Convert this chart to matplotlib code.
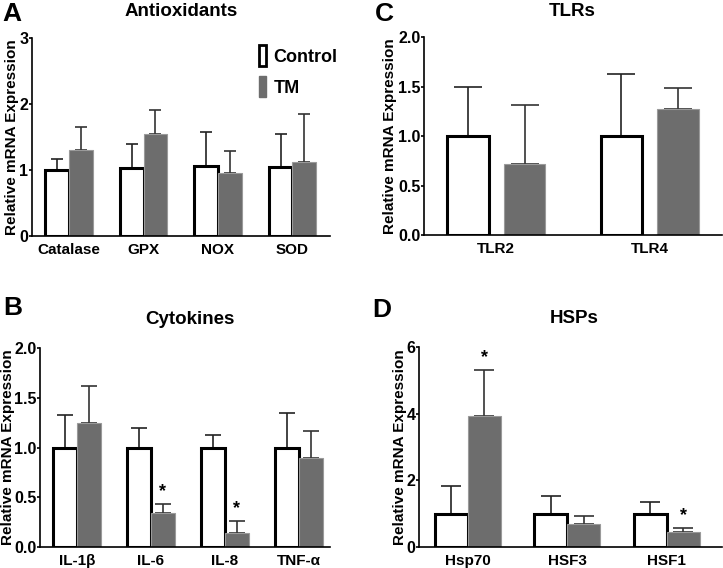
import matplotlib
matplotlib.use('Agg')
from matplotlib import pyplot as plt
from matplotlib.patches import Patch
import numpy as np

plt.rcParams['font.family'] = ['Liberation Sans', 'DejaVu Sans']
plt.rcParams['font.weight'] = 'bold'
plt.rcParams['axes.labelweight'] = 'bold'

# Panel A - antioxidants
antiGenes = ['Catalase', 'GPX', 'NOX', 'SOD']
antiCtrl = [1.00, 1.03, 1.06, 1.05]
antiCtrlErr = [0.16, 0.36, 0.52, 0.50]
antiTM = [1.30, 1.55, 0.95, 1.12]
antiTMErr = [0.35, 0.36, 0.34, 0.73]

# Panel B - cytokines
cytoGenes = ['IL-1β', 'IL-6', 'IL-8', 'TNF-α']
cytoCtrl = [1.00, 1.00, 1.00, 1.00]
cytoCtrlErr = [0.33, 0.20, 0.13, 0.35]
cytoTM = [1.25, 0.34, 0.14, 0.90]
cytoTMErr = [0.37, 0.09, 0.12, 0.27]
cytoStars = [False, True, True, False]

# Panel C - TLRs
tlrGenes = ['TLR2', 'TLR4']
tlrCtrl = [1.00, 1.00]
tlrCtrlErr = [0.50, 0.63]
tlrTM = [0.72, 1.27]
tlrTMErr = [0.59, 0.22]

# Panel D - HSPs
hspGenes = ['Hsp70', 'HSF3', 'HSF1']
hspCtrl = [1.00, 1.00, 1.00]
hspCtrlErr = [0.82, 0.52, 0.35]
hspTM = [3.93, 0.70, 0.45]
hspTMErr = [1.37, 0.23, 0.13]
hspStars = [True, False, True]

tmColor = '#6d6d6d'


def drawPanel(ax, genes, ctrl, ctrlErr, tm, tmErr, width, offset, xlim, ylim, yticks,
              ytickLabels, title, letter, letterPos, labelX, cap=6, stars=None, starPad=0.0):
    x = np.arange(len(genes))
    ax.bar(x - offset, ctrl, width=width, color='white', edgecolor='black', linewidth=2.2, zorder=2)
    ax.bar(x + offset, tm, width=width, color=tmColor, edgecolor='#9a9a9a', linewidth=0.8, zorder=2)
    ax.errorbar(x - offset, ctrl, yerr=[np.zeros(len(ctrl)), ctrlErr], fmt='none',
                ecolor='#222222', elinewidth=1.2, capsize=cap, capthick=1.2, zorder=1)
    ax.errorbar(x + offset, tm, yerr=[np.zeros(len(tm)), tmErr], fmt='none',
                ecolor='#333333', elinewidth=1.2, capsize=cap, capthick=1.2, zorder=1)
    if stars is not None:
        for i, s in enumerate(stars):
            if s:
                ax.text(x[i] + offset, tm[i] + tmErr[i] + starPad, '*', ha='center', va='bottom',
                        fontsize=13, fontweight='bold')
    ax.set_xlim(*xlim)
    ax.set_ylim(*ylim)
    ax.set_xticks(x)
    ax.set_xticklabels(genes, fontsize=11, fontweight='bold')
    ax.tick_params(axis='x', length=0, pad=5)
    ax.set_yticks(yticks)
    ax.set_yticklabels(ytickLabels, fontsize=11.5, fontweight='bold')
    ax.tick_params(axis='y', length=2, width=1.2, pad=0.5)
    ax.spines['top'].set_visible(False)
    ax.spines['right'].set_visible(False)
    ax.spines['left'].set_linewidth(1.2)
    ax.spines['bottom'].set_linewidth(1.2)
    ax.set_ylabel('Relative mRNA Expression', fontsize=11, fontweight='bold')
    ax.yaxis.set_label_coords(labelX, 0.5)
    fig.text(title[1], title[2], title[0], ha='center', va='center', fontsize=13.5, fontweight='bold')
    fig.text(letterPos[0], letterPos[1], letter, ha='center', va='center', fontsize=19, fontweight='bold')


fig = plt.figure(figsize=(7.23, 5.68), dpi=100)

axA = fig.add_axes([0.044, 0.5845, 0.412, 0.3485])
drawPanel(axA, antiGenes, antiCtrl, antiCtrlErr, antiTM, antiTMErr, 0.32, 0.16,
          (-0.5, 3.5), (0, 3), [0, 1, 2, 3], ['0', '1', '2', '3'],
          ('Antioxidants', 0.25, 0.979), 'A', (0.016, 0.975), labelX=-0.042, cap=4.5)
axA.legend(handles=[Patch(facecolor='white', edgecolor='black', linewidth=2),
                    Patch(facecolor=tmColor, edgecolor=tmColor)],
           labels=['Control', 'TM'], loc='upper right', bbox_to_anchor=(1.08, 1.045),
           frameon=False, handlelength=0.4, handleheight=1.4, handletextpad=0.4,
           labelspacing=0.55, prop={'size': 13, 'weight': 'bold'})

axC = fig.add_axes([0.5865, 0.586, 0.412, 0.3485])
drawPanel(axC, tlrGenes, tlrCtrl, tlrCtrlErr, tlrTM, tlrTMErr, 0.27, 0.185,
          (-0.47, 1.47), (0, 2.0), [0, 0.5, 1.0, 1.5, 2.0], ['0.0', '0.5', '1.0', '1.5', '2.0'],
          ('TLRs', 0.791, 0.979), 'C', (0.532, 0.975), labelX=-0.09, cap=10)

axB = fig.add_axes([0.0553, 0.037, 0.401, 0.350])
drawPanel(axB, cytoGenes, cytoCtrl, cytoCtrlErr, cytoTM, cytoTMErr, 0.32, 0.16,
          (-0.5, 3.42), (0, 2.0), [0, 0.5, 1.0, 1.5, 2.0], ['0.0', '0.5', '1.0', '1.5', '2.0'],
          ('Cytokines', 0.263, 0.437), 'B', (0.018, 0.457), labelX=-0.086, cap=6,
          stars=cytoStars, starPad=0.04)

axD = fig.add_axes([0.5795, 0.037, 0.4185, 0.352])
drawPanel(axD, hspGenes, hspCtrl, hspCtrlErr, hspTM, hspTMErr, 0.33, 0.165,
          (-0.49, 2.55), (0, 6), [0, 2, 4, 6], ['0', '2', '4', '6'],
          ('HSPs', 0.794, 0.44), 'D', (0.528, 0.455), labelX=-0.04, cap=7,
          stars=hspStars, starPad=0.12)

plt.savefig('out.png', dpi=100)
